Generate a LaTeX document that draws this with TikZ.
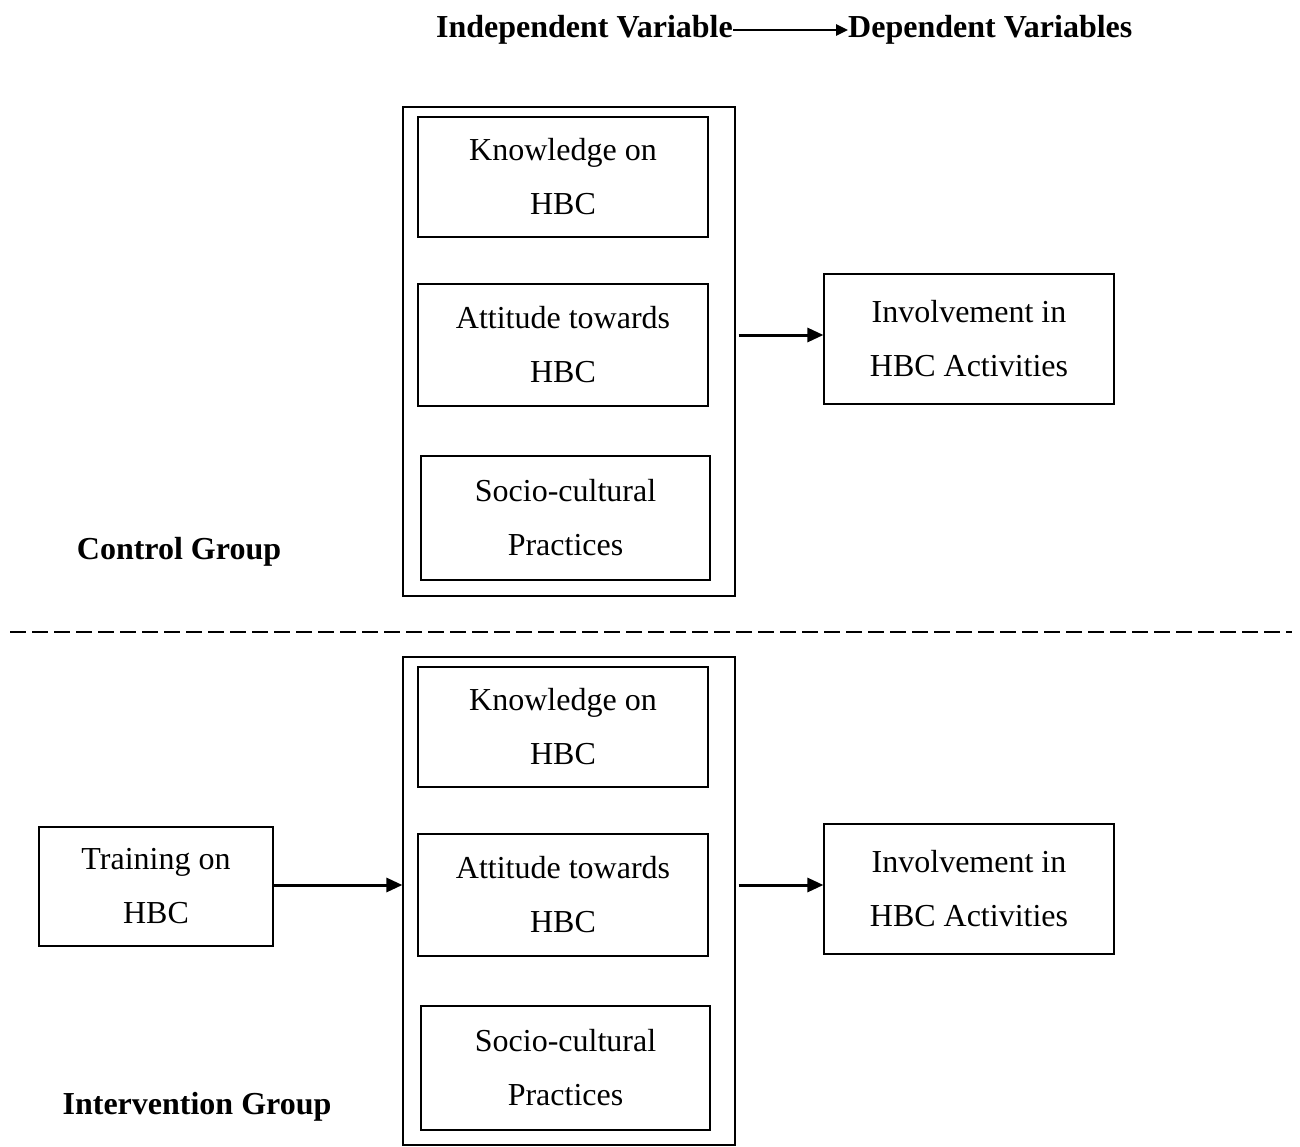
\documentclass[tikz,border=0pt]{standalone}
\usepackage{fontspec}
\setmainfont{Liberation Serif}
\usetikzlibrary{arrows.meta}
\begin{document}
\begin{tikzpicture}[x=1pt,y=-1pt,
  box/.style={draw,line width=1.2pt,inner sep=0pt,align=center,font=\fontsize{32}{54}\selectfont},
  outer/.style={draw,line width=1.2pt,inner sep=0pt},
  lbl/.style={inner sep=0pt,font=\fontsize{32}{38}\selectfont\bfseries},
  arr/.style={line width=3pt,-{Triangle[length=16pt,width=14pt]}},
  sep/.style={line width=2.5pt,dash pattern=on 16pt off 6pt}]
\useasboundingbox (0,0) rectangle (1300,1147);
% title
\node[lbl,anchor=east] (iv) at (733,30) {Independent Variable};
\node[lbl,anchor=west] (dv) at (848,30) {Dependent Variables};
\draw[line width=2.5pt,-{Triangle[length=12pt,width=11pt]}] (iv.east) -- (dv.west);
% control group
\node[outer,minimum width=332pt,minimum height=489pt] (outT) at (569,351.5) {};
\node[box,minimum width=290pt,minimum height=120pt] (knT) at (563,177) {Knowledge on\\HBC};
\node[box,minimum width=290pt,minimum height=122pt] (atT) at (563,345) {Attitude towards\\HBC};
\node[box,minimum width=289pt,minimum height=124pt] (soT) at (565.5,518) {Socio-cultural\\Practices};
\node[box,minimum width=290pt,minimum height=130pt] (invT) at (969,339) {Involvement in\\HBC Activities};
\node[lbl] (cg) at (179,552) {Control Group};
\draw[arr] ([xshift=3pt]outT.east |- 0,335) -- (invT.west |- 0,335);
% separator
\coordinate (s1) at (10,632);
\coordinate (s2) at (1292,632);
\draw[sep] (s1) -- (s2);
% intervention group
\node[outer,minimum width=332pt,minimum height=488pt] (outB) at (569,901) {};
\node[box,minimum width=290pt,minimum height=120pt] (knB) at (563,727) {Knowledge on\\HBC};
\node[box,minimum width=290pt,minimum height=122pt] (atB) at (563,895) {Attitude towards\\HBC};
\node[box,minimum width=289pt,minimum height=124pt] (soB) at (565.5,1068) {Socio-cultural\\Practices};
\node[box,minimum width=290pt,minimum height=130pt] (invB) at (969,889) {Involvement in\\HBC Activities};
\node[box,minimum width=234pt,minimum height=119pt] (tr) at (156,886.5) {Training on\\HBC};
\node[lbl] (ig) at (197,1107) {Intervention Group};
\draw[arr] (tr.east |- 0,885) -- (outB.west |- 0,885);
\draw[arr] ([xshift=3pt]outB.east |- 0,885) -- (invB.west |- 0,885);
\end{tikzpicture}
\end{document}
